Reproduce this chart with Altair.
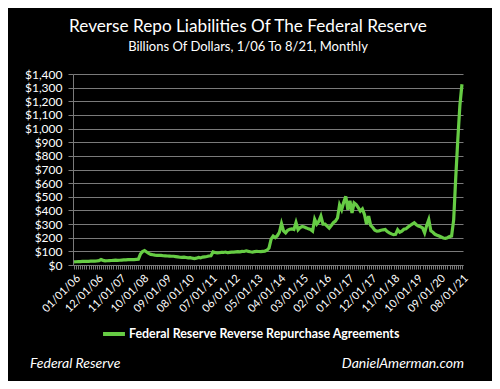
import altair as alt
import pandas as pd

# Monthly values, billions of dollars, Jan 2006 .. Aug 2021
values_2006 = [23, 24, 25, 25, 26, 26, 27, 27, 28, 28, 29, 30]
values_2007 = [32, 40, 34, 30, 31, 32, 33, 34, 35, 34, 35, 36]
values_2008 = [37, 38, 40, 39, 40, 40, 41, 42, 80, 98, 106, 95]
values_2009 = [85, 78, 75, 72, 70, 70, 70, 68, 67, 66, 65, 64]
values_2010 = [64, 62, 60, 57, 56, 58, 55, 52, 54, 50, 47, 50]
values_2011 = [55, 52, 58, 60, 62, 66, 68, 96, 92, 88, 90, 93]
values_2012 = [92, 95, 90, 93, 95, 94, 96, 98, 97, 100, 99, 104]
values_2013 = [100, 97, 95, 98, 100, 99, 98, 100, 102, 108, 125, 190]
values_2014 = [212, 200, 215, 240, 304, 250, 236, 255, 262, 265, 260, 312]
values_2015 = [258, 275, 282, 278, 272, 265, 260, 248, 335, 300, 320, 358]
values_2016 = [300, 300, 285, 270, 290, 310, 322, 345, 440, 405, 460, 503]
values_2017 = [405, 470, 382, 455, 443, 420, 395, 411, 370, 300, 358, 290]
values_2018 = [275, 255, 248, 250, 255, 258, 260, 245, 235, 228, 222, 225]
values_2019 = [258, 240, 248, 262, 265, 278, 290, 300, 309, 295, 285, 280]
values_2020 = [272, 236, 290, 333, 250, 240, 225, 218, 212, 205, 198, 196]
values_2021 = [200, 208, 212, 330, 640, 920, 1170, 1325]

values = (values_2006 + values_2007 + values_2008 + values_2009 + values_2010
          + values_2011 + values_2012 + values_2013 + values_2014 + values_2015
          + values_2016 + values_2017 + values_2018 + values_2019 + values_2020
          + values_2021)

months = [d.strftime("%m/%d/%y") for d in pd.date_range("2006-01-01", "2021-08-01", freq="MS")]

tick_labels = ["01/01/06", "12/01/06", "11/01/07", "10/01/08", "09/01/09", "08/01/10",
               "07/01/11", "06/01/12", "05/01/13", "04/01/14", "03/01/15", "02/01/16",
               "01/01/17", "12/01/17", "11/01/18", "10/01/19", "09/01/20", "08/01/21"]
y_ticks = list(range(0, 1500, 100))

series_name = "Federal Reserve Reverse Repurchase Agreements"
df = pd.DataFrame({"month": months, "value": values, "series": series_name})

FONT = "Lato"
GREEN = "#66cc44"
GRID = "#7a7a7a"

label_expr = "indexof([" + ",".join("'%s'" % t for t in tick_labels) + "], datum.label) >= 0 ? datum.label : ''"

line = alt.Chart(df).mark_line(strokeWidth=3.2).encode(
    x=alt.X("month:O", sort=months,
            scale=alt.Scale(type="point", padding=0.5),
            axis=alt.Axis(title=None, labelAngle=-45, labelExpr=label_expr,
                          labelOverlap=False, labelColor="white", labelFont=FONT,
                          labelFontSize=11, labelPadding=3,
                          tickColor=GRID, tickSize=4, domainColor=GRID, grid=False)),
    y=alt.Y("value:Q", scale=alt.Scale(domain=[0, 1400], nice=False),
            axis=alt.Axis(title=None, values=y_ticks, format="$,d",
                          labelColor="white", labelFont=FONT, labelFontSize=12,
                          labelPadding=6, tickColor=GRID, tickSize=5,
                          domainColor=GRID, gridColor=GRID, gridWidth=1)),
    color=alt.Color("series:N", scale=alt.Scale(range=[GREEN]),
                    legend=alt.Legend(title=None, orient="none", legendX=28, legendY=247,
                                      symbolType="stroke", symbolStrokeWidth=4,
                                      symbolSize=480, labelColor="white", labelFont=FONT,
                                      labelFontSize=12.4, labelFontWeight="bold",
                                      labelOffset=2, labelLimit=400)),
)

src_left = alt.Chart(pd.DataFrame({"t": ["Federal Reserve"]})).mark_text(
    align="left", baseline="alphabetic", fontStyle="italic", font=FONT,
    fontSize=14, color="white"
).encode(text="t:N", x=alt.value(-43), y=alt.value(294))

src_right = alt.Chart(pd.DataFrame({"t": ["DanielAmerman.com"]})).mark_text(
    align="right", baseline="alphabetic", fontStyle="italic", font=FONT,
    fontSize=14, color="white"
).encode(text="t:N", x=alt.value(391), y=alt.value(294))

chart = alt.layer(line, src_left, src_right).properties(
    width=390, height=191,
    autosize=alt.AutoSizeParams(type="none"),
    padding={"left": 65, "right": 29, "top": 66, "bottom": 116},
    background="black",
    title=alt.TitleParams(
        text="Reverse Repo Liabilities Of The Federal Reserve",
        subtitle="Billions Of Dollars, 1/06 To 8/21, Monthly",
        anchor="middle", dx=-20, offset=14, font=FONT, fontSize=17.2,
        fontWeight="normal", color="white", subtitleFont=FONT,
        subtitleFontSize=13, subtitleColor="white", subtitlePadding=6),
).configure_view(stroke=None)

chart.save("out.html", embed_options={"renderer": "svg", "actions": False})
